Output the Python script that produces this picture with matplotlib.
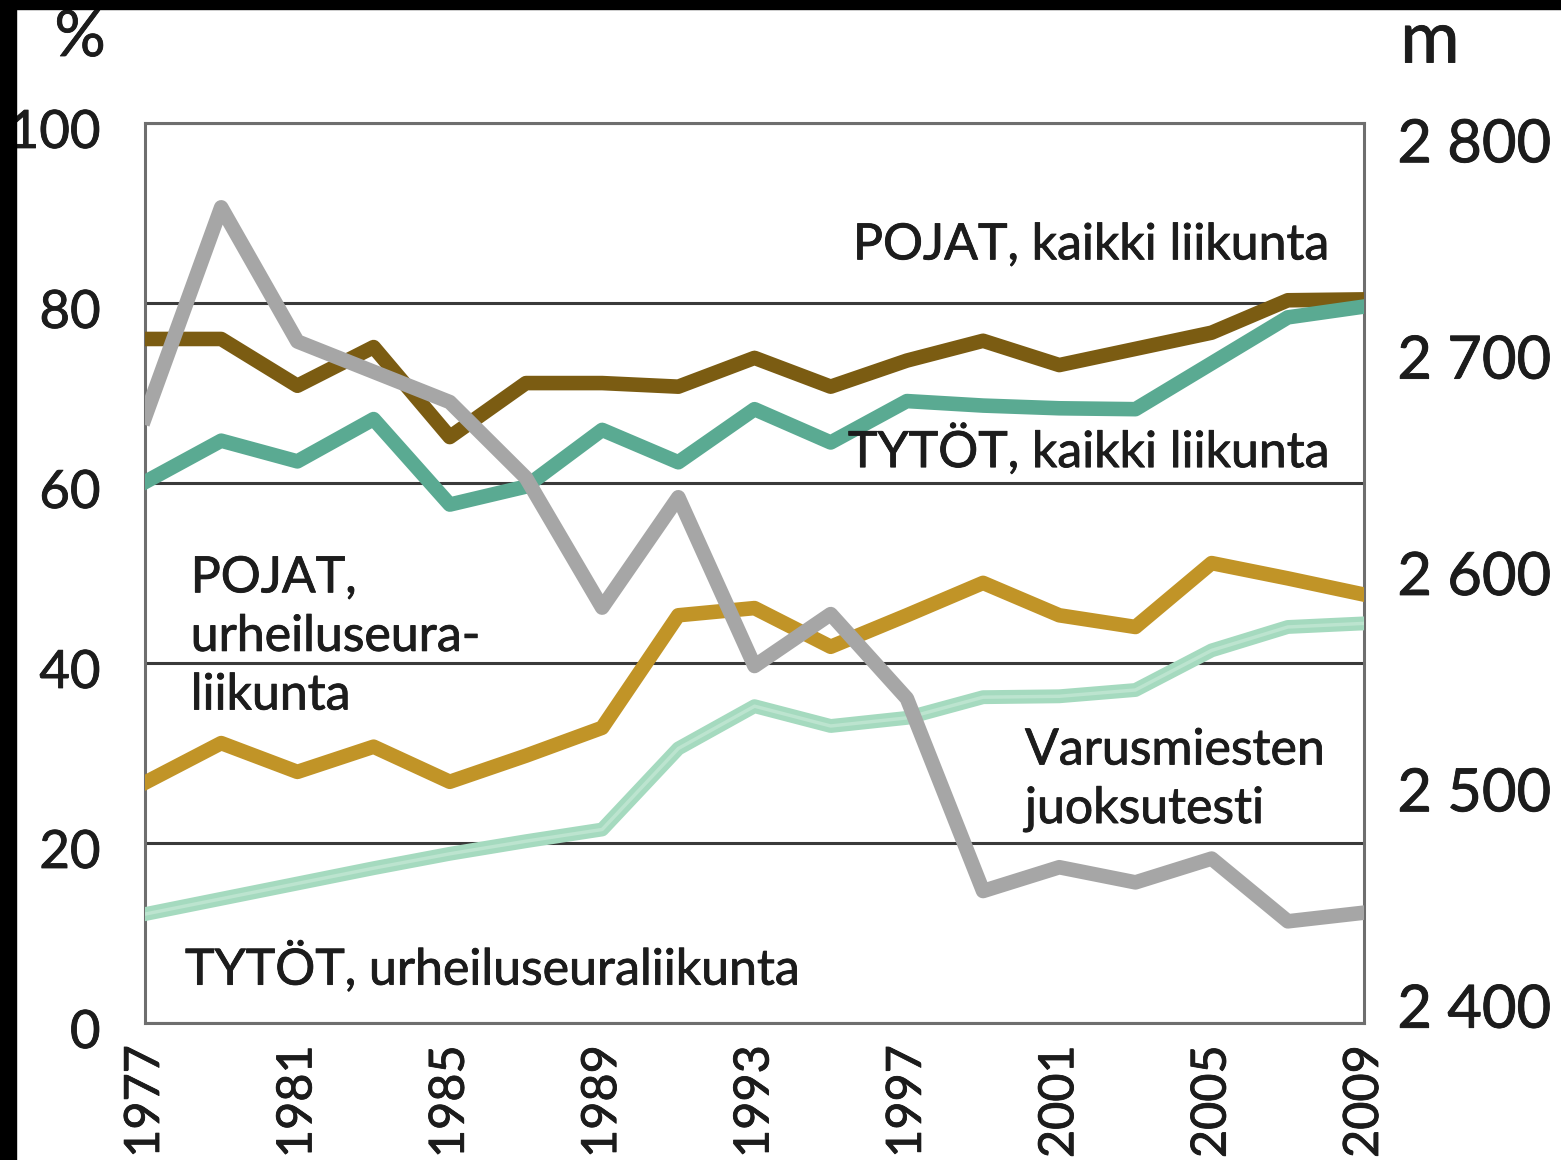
import matplotlib.pyplot as plt
import matplotlib.patheffects as pe
from matplotlib.patches import Rectangle
from matplotlib.ticker import FuncFormatter
from matplotlib.transforms import ScaledTranslation

years = [1977, 1979, 1981, 1983, 1985, 1987, 1989, 1991, 1993,
         1995, 1997, 1999, 2001, 2003, 2005, 2007, 2009]

# % of youth doing sport
pojat_kaikki = [76.0, 76.0, 70.8, 75.1, 65.1, 71.1, 71.1, 70.7, 73.9,
                70.7, 73.6, 75.8, 73.1, 74.9, 76.7, 80.3, 80.4]
tytot_kaikki = [60.1, 64.7, 62.4, 67.1, 57.6, 59.6, 65.9, 62.3, 68.2,
                64.5, 69.1, 68.6, 68.3, 68.2, 73.3, 78.4, 79.6]
pojat_seura = [26.7, 31.1, 27.9, 30.7, 26.8, 29.7, 32.8, 45.3, 46.1,
               41.8, 45.3, 48.9, 45.3, 44.0, 51.1, 49.4, 47.6]
tytot_seura = [12.1, 13.8, 15.5, 17.2, 18.8, 20.2, 21.5, 30.5, 35.2,
               33.0, 33.9, 36.2, 36.3, 37.0, 41.4, 44.0, 44.4]

# conscript running test, metres (right axis)
juoksutesti = [2672, 2769, 2707, 2693, 2679, 2644, 2584, 2635, 2557,
               2581, 2542, 2453, 2464, 2457, 2468, 2439, 2443]

year_ticks = [1977, 1981, 1985, 1989, 1993, 1997, 2001, 2005, 2009]
pct_ticks = [0, 20, 40, 60, 80, 100]
m_ticks = [2400, 2500, 2600, 2700, 2800]

plt.rcParams['font.family'] = ['Lato', 'DejaVu Sans']
TXT = "#1c1c1c"
bold_ish = [pe.withStroke(linewidth=0.6, foreground=TXT)]

fig = plt.figure(figsize=(15.61, 11.6), dpi=100)
fig.patch.set_facecolor("white")
ax = fig.add_axes([0.0929, 0.1181, 0.7809, 0.7759])

ax.set_xlim(1977, 2009)
ax.set_ylim(0, 100)
ax.set_xticks(year_ticks)
ax.set_yticks(pct_ticks)
ax.set_axisbelow(True)
ax.yaxis.grid(True, color="#3a3a3a", linewidth=2.2)
ax.xaxis.grid(False)
for s in ax.spines.values():
    s.set_color("#6e6e6e")
    s.set_linewidth(2.2)

ax.tick_params(axis="y", length=0, pad=32, labelsize=38, labelcolor=TXT)
ax.tick_params(axis="x", length=0, pad=16, labelsize=35, labelcolor=TXT,
               labelrotation=90)

lw = 10.5
ax.plot(years, pojat_kaikki, color="#7b5c12", lw=lw, solid_joinstyle="round", zorder=3)
ax.plot(years, pojat_seura, color="#c19427", lw=lw, solid_joinstyle="round", zorder=3)
ax.plot(years, tytot_kaikki, color="#5aaa92", lw=lw, solid_joinstyle="round", zorder=3)
ax.plot(years, tytot_seura, color="#a5dabf", lw=lw - 0.5, solid_joinstyle="round", zorder=3)
ax.plot(years, tytot_seura, color="#bce4cf", lw=2.5, solid_joinstyle="round", zorder=3)

ax2 = ax.twinx()
ax2.set_ylim(2392, 2808)
ax2.set_yticks(m_ticks)
ax2.yaxis.set_major_formatter(FuncFormatter(lambda v, p: f"{int(v):,}".replace(",", " ")))
ax2.tick_params(axis="y", length=0, pad=24, labelsize=43, labelcolor=TXT)
for s in ax2.spines.values():
    s.set_visible(False)
ax2.plot(years, juoksutesti, color="#a6a6a6", lw=lw, solid_joinstyle="round", zorder=4)

# left labels sit a little below their gridlines in the original
shift = ScaledTranslation(0, -6 / 100, fig.dpi_scale_trans)
for lab in ax.get_yticklabels():
    lab.set_transform(lab.get_transform() + shift)

for lab in ax.get_yticklabels() + ax.get_xticklabels() + ax2.get_yticklabels():
    lab.set_path_effects(bold_ish)

# series labels
fs = 36
labels = [
    (2008.1, 86.4, "POJAT, kaikki liikunta", "right"),
    (2008.1, 63.7, "TYTÖT, kaikki liikunta", "right"),
    (1978.2, 42.9, "POJAT,\nurheiluseura-\nliikunta", "left"),
    (2000.1, 27.0, "Varusmiesten\njuoksutesti", "left"),
    (1978.05, 6.2, "TYTÖT, urheiluseuraliikunta", "left"),
]
for x, y, s, ha in labels:
    ax.text(x, y, s, fontsize=fs, color=TXT, ha=ha, va="center",
            linespacing=1.34, zorder=6, path_effects=bold_ish)

fig.text(80 / 1561, 1 - 38 / 1160, "%", fontsize=46, color=TXT, ha="center",
         va="center", path_effects=bold_ish)
fig.text(1430 / 1561, 1 - 42 / 1160, "m", fontsize=52, color=TXT, ha="center",
         va="center", path_effects=bold_ish)

# black strips along the top and left edge
fig.add_artist(Rectangle((0, 1 - 9 / 1160), 1, 9 / 1160, transform=fig.transFigure,
                         color="black", zorder=10))
fig.add_artist(Rectangle((0, 0), 16 / 1561, 1, transform=fig.transFigure,
                         color="black", zorder=10))

fig.savefig("out.png", dpi=100, facecolor=fig.get_facecolor())
